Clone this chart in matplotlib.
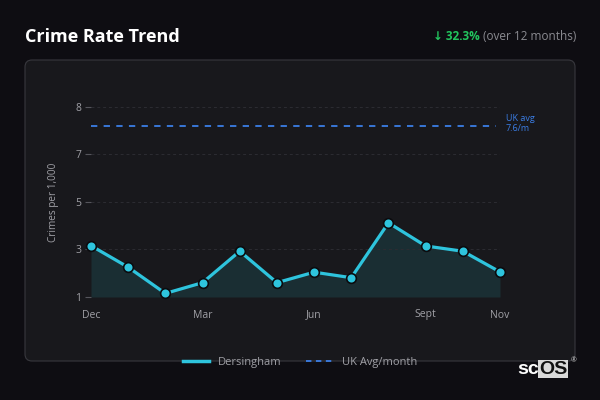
import numpy as np
import matplotlib.pyplot as plt
from matplotlib.patches import FancyBboxPatch
from matplotlib.lines import Line2D

months = ['Dec', 'Jan', 'Feb', 'Mar', 'Apr', 'May', 'Jun', 'Jul', 'Aug', 'Sept', 'Oct', 'Nov']
rate = [3.26, 2.48, 1.53, 1.92, 3.06, 1.92, 2.30, 2.10, 4.09, 3.25, 3.06, 2.31]
uk_avg = 7.6
shown_months = ['Dec', 'Mar', 'Jun', 'Sept', 'Nov']
change = '↓ 32.3%'
change_note = '(over 12 months)'

plt.rcParams['font.family'] = ['Open Sans', 'DejaVu Sans']

bg = '#0e0d12'
panel = '#18181c'
cyan = '#2ec4dd'
blue = '#3b7ee6'
grey = '#a0a0a6'

fig = plt.figure(figsize=(6, 4), dpi=100, facecolor=bg)

# card behind the plot
card = FancyBboxPatch((0.25, 0.39), 5.5, 3.01, boxstyle='round,pad=0,rounding_size=0.07',
                      transform=fig.dpi_scale_trans, facecolor=panel, edgecolor='#38383e', lw=0.8,
                      zorder=-5)
fig.patches.append(card)

fig.text(25/600, 1-37/400, 'Crime Rate Trend', color='white', fontsize=13, fontweight='bold',
         va='center', ha='left')
t2 = fig.text(576/600, 1-37/400, change_note, color='#8a8a90', fontsize=8.5, va='center', ha='right')
fig.canvas.draw()
bb = t2.get_window_extent()
fig.text((bb.x0 - 3)/600, 1-37/400, change, color='#22c55e', fontsize=8.5, fontweight='bold',
         va='center', ha='right')

ax = fig.add_axes([91/600, 1-297/400, 409/600, (297-106.7)/400])
ax.set_zorder(2)
ax.set_facecolor('none')
x = np.arange(len(months))

ax.fill_between(x, rate, 1.4, color='#1b3136', alpha=0.9, lw=0)
ax.plot(x, rate, color=cyan, lw=2.3, marker='o', ms=7, mfc=cyan, mec='#0b0b0e', mew=1.2,
        zorder=3, clip_on=False)
ax.plot([0, 10.9], [uk_avg, uk_avg], color=blue, lw=1.3, ls=(0, (3.5, 3.5)))
ax.text(11.15, uk_avg + 0.1, 'UK avg\n7.6/m', color=blue, fontsize=6.5, va='center', ha='left',
        linespacing=1.1)

ax.set_xlim(0, 11)
ax.set_ylim(1.4, 8.3)
yt = np.linspace(1.4, 8.3, 5)
ax.set_yticks(yt)
ax.set_yticklabels(['%.0f' % v for v in yt])
ax.set_xticks([months.index(m) for m in shown_months])
ax.set_xticklabels(shown_months)
ax.tick_params(axis='y', colors='#55555c', labelcolor=grey, labelsize=7.5, length=4, width=0.8, pad=3)
ax.tick_params(axis='x', length=0, labelcolor=grey, labelsize=7.5, pad=9)
ax.grid(axis='y', color='#2c2c32', lw=0.7, ls=(0, (3, 3)))
for s in ax.spines.values():
    s.set_visible(False)
ax.set_ylabel('Crimes per 1,000', color=grey, fontsize=7.2, labelpad=12)

handles = [Line2D([], [], color=cyan, lw=2.5),
           Line2D([], [], color=blue, lw=1.3, ls=(0, (3, 2.5)))]
fig.legend(handles, ['Dersingham', 'UK Avg/month'], loc='center', bbox_to_anchor=(0.5, 1-362/400),
           ncol=2, frameon=False, fontsize=8, labelcolor=grey, handlelength=2.4,
           columnspacing=2.2, handletextpad=0.8)

# watermark
fig.text(517/600, 1-369/400, 'sc', color='white', fontsize=14, family='Liberation Sans',
         fontweight='bold', va='center', ha='left')
fig.text(539/600, 1-369/400, 'OS', color='#111111', fontsize=14, family='Liberation Sans',
         fontweight='bold', va='center', ha='left',
         bbox=dict(boxstyle='square,pad=0.05', facecolor='#d9d9d9', edgecolor='none'))
fig.text(571/600, 1-361/400, '®', color='#cccccc', fontsize=5, va='center', ha='left')

fig.savefig('out.png', dpi=100, facecolor=bg)
